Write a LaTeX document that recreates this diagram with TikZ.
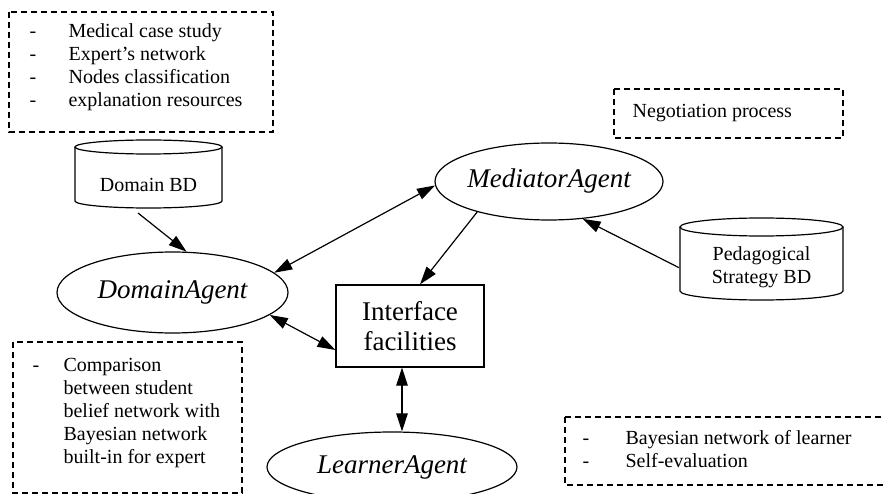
\documentclass[tikz,border=0pt]{standalone}
\usepackage{fontspec}
\setmainfont{Liberation Serif}
\usetikzlibrary{arrows.meta,shapes.geometric,calc}
\begin{document}
\begin{tikzpicture}[x=1pt,y=1pt,
  line width=1.2pt,
  smalltext/.style={font=\fontsize{20}{23}\selectfont, inner sep=0pt},
  agent/.style={ellipse, draw, inner xsep=-15pt, inner ysep=0pt,
    font=\fontsize{27}{30}\selectfont\itshape},
  facility/.style={rectangle, draw, inner sep=0pt, align=center,
    font=\fontsize{27}{30}\selectfont},
  notebox/.style={draw, dash pattern=on 6pt off 4pt, line width=1.2pt},
  cyl/.style={draw, line width=1.2pt},
  arr/.style={-{Triangle[length=18pt,width=11.5pt]}},
  biarr/.style={{Triangle[length=18pt,width=11.5pt]}-{Triangle[length=18pt,width=11.5pt]}}
]
\useasboundingbox (0,0) rectangle (883,-494);
\clip (0,0) rectangle (883,-494);

% note boxes
\draw[notebox] (9,-12) rectangle (273,-132);
\node[smalltext, anchor=base west] (notedomain) at (29,-38)
  {\begin{tabular}[t]{@{}p{39pt}@{}l@{}}
   -& Medical case study\\
   -& Expert's network\\
   -& Nodes classification\\
   -& explanation resources
   \end{tabular}};

\draw[notebox] (614,-89) rectangle (843,-138);
\node[smalltext, anchor=base west] (notenego) at (632,-118) {Negotiation process};

\draw[notebox] (13,-342) rectangle (242,-493);
\node[smalltext, anchor=base west] (notecompare) at (32,-371)
  {\begin{tabular}[t]{@{}p{31pt}@{}l@{}}
   -& Comparison\\
    & between student\\
    & belief network with\\
    & Bayesian network\\
    & built-in for expert
   \end{tabular}};

\draw[notebox] (565,-417) rectangle (900,-485);
\node[smalltext, anchor=base west] (notelearner) at (582,-444)
  {\begin{tabular}[t]{@{}p{43pt}@{}l@{}}
   -& Bayesian network of learner\\
   -& Self-evaluation
   \end{tabular}};

% data bases
\draw[cyl] (75,-147) -- (75,-201)
  arc[start angle=180, end angle=360, x radius=73.5, y radius=7] -- (222,-147);
\draw[cyl] (148.5,-147) ellipse[x radius=73.5, y radius=7];
\node[smalltext] (dombd) at (148.5,-185) {Domain BD};

\draw[cyl] (680,-227) -- (680,-291)
  arc[start angle=180, end angle=360, x radius=81.5, y radius=9] -- (843,-227);
\draw[cyl] (761.5,-227) ellipse[x radius=81.5, y radius=9];
\node[smalltext, align=center] (pedbd) at (761.5,-267.7) {Pedagogical\\Strategy BD};

% agents and interface
\node[agent, minimum width=231pt, minimum height=81pt] (domain) at (172.5,-292.5) {DomainAgent};
\node[agent, minimum width=228pt, minimum height=77pt] (mediator) at (549,-181.5) {MediatorAgent};
\node[agent, minimum width=250pt, minimum height=70pt] (learner) at (392,-467) {LearnerAgent};
\node[facility, minimum width=148pt, minimum height=82pt] (iface) at (410,-326) {Interface\\facilities};

% connectors
\draw[arr] ($(dombd)+(-10.5,-28)$) -- (domain.71);
\draw[biarr] (mediator.182) -- (domain.11);
\draw[arr] (mediator.203) -- ($(iface.north)+(10,0)$);
\draw[arr] ($(pedbd)+(-82.5,0)$) -- (mediator.-48);
\draw[biarr] (domain.-13) -- ($(iface.west)+(0,-24)$);
\draw[biarr] ($(iface.south)+(-8,0)$) -- ($(learner.north)+(10,0)$);
\end{tikzpicture}
\end{document}
